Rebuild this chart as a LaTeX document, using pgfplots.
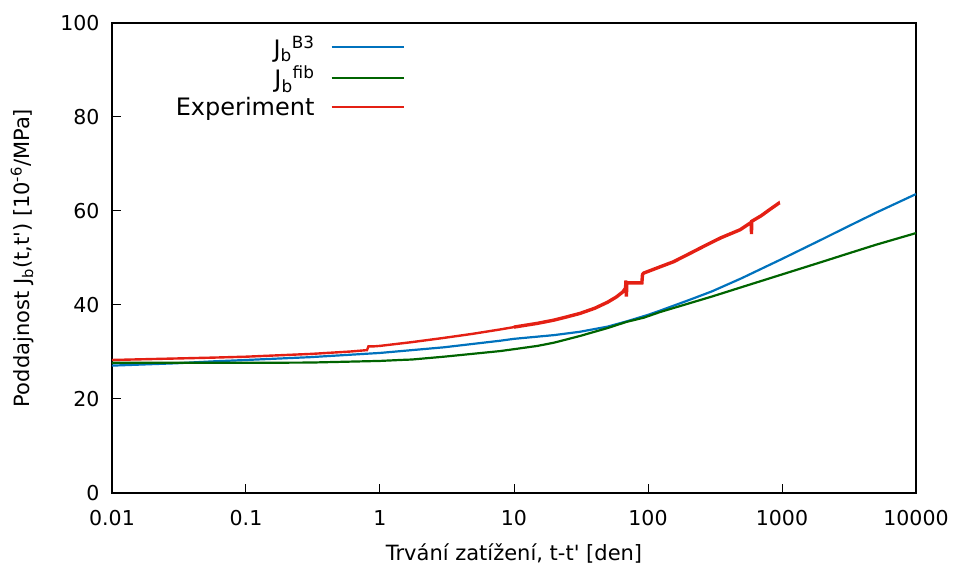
\documentclass[border=0pt]{standalone}
\usepackage{pgfplots}
\pgfplotsset{compat=1.18}
\usepackage{fontspec}
\setmainfont{DejaVu Sans}
\definecolor{cblue}{RGB}{0,114,189}
\definecolor{cgreen}{RGB}{0,100,0}
\definecolor{cred}{RGB}{228,32,20}
\begin{document}
\begin{tikzpicture}
\begin{axis}[
  name=ax,
  scale only axis,
  width=804pt, height=470pt,
  xmode=log, log basis x=10,
  xmin=0.01, xmax=10000, ymin=0, ymax=100,
  xtick={0.01,0.1,1,10,100,1000,10000},
  xticklabels={0.01,0.1,1,10,100,1000,10000},
  ytick={0,20,40,60,80,100},
  minor y tick num=0,
  tick align=inside,
  xtick pos=bottom, ytick pos=left,
  major tick length=9pt, minor tick length=5pt,
  every tick/.style={black, line width=1pt},
  axis line style={line width=1.6pt},
  /pgf/number format/assume math mode=true,
  ticklabel style={font=\fontsize{20.5}{24}\selectfont},
  xticklabel style={yshift=-14pt},
  yticklabel style={xshift=-9pt},
  xlabel={Trvání zatížení, t-t\textquotesingle\ [den]},
  ylabel={Poddajnost J\textsubscript{b}(t,t\textquotesingle) [10\textsuperscript{-6}/MPa]},
  label style={font=\fontsize{21}{25}\selectfont},
  xlabel style={yshift=-11pt},
  ylabel style={yshift=20pt},
  legend cell align=right,
  legend plot pos=right,
  legend style={draw=none, fill=none, at={(0.367,0.982)}, anchor=north east,
    font=\fontsize{24}{27}\selectfont, row sep=3.5pt, inner sep=2pt,
    /tikz/column sep=14pt},
  legend image code/.code={\draw[#1] (0pt,0pt) -- (72pt,0pt);},
]
\addplot[cblue, line width=2.2pt] coordinates {
(0.01,27.1) (0.03,27.6) (0.056,28.0) (0.1,28.3) (0.3,28.9) (1,29.8) (1.73,30.4)
(3,31.0) (7.9,32.4) (10,32.8) (20,33.6) (31,34.3) (50,35.4) (69,36.5) (100,37.9)
(123,38.8) (200,41.0) (300,42.9) (500,45.7) (1000,49.8) (2000,54.0) (3000,56.5)
(5000,59.6) (10000,63.6)
};
\addlegendentry{J\textsubscript{b}\textsuperscript{B3}}
\addplot[cgreen, line width=2.2pt] coordinates {
(0.01,27.7) (0.1,27.7) (0.3,27.75) (1,28.1) (1.41,28.3) (1.73,28.4) (3,29.0)
(7.9,30.2) (10,30.6) (15,31.3) (20,32.0) (31,33.4) (50,35.1) (69,36.4) (93,37.3) (123,38.5)
(200,40.3) (300,41.8) (500,43.8) (1000,46.5) (2000,49.2) (3000,50.8) (5000,52.8)
(10000,55.3)
};
\addlegendentry{J\textsubscript{b}\textsuperscript{fib}}
\addplot[cred, line width=2.4pt] coordinates {
(0.01,28.3) (0.056,28.8) (0.1,29.0) (0.31,29.6) (0.6,30.1) (0.80,30.4) (0.82,31.2)
(0.9,31.2) (1,31.3) (1.73,32.1) (3,33.0) (5,33.9) (7.9,34.8) (10,35.3)
};
\addlegendentry{Experiment}
\addplot[cred, line width=3.4pt, forget plot] coordinates {
(10,35.3) (15,36.1) (20,36.8) (25,37.5) (31,38.2) (40,39.3) (50,40.6) (58,41.7)
(65,42.8) (68,43.6) (68.5,45.2) (69,41.8) (69.5,44.7) (90,44.7)
(91,46.5) (93,46.8) (120,48.0) (155,49.2) (200,50.8) (274,52.8) (350,54.3)
(486,56.0) (590,57.6) (592,55.1) (594,57.8) (700,59.0) (800,60.2) (940,61.6) (945,61.3)
};
\end{axis}
\pgfresetboundingbox
\path ([xshift=-112pt,yshift=-74pt]ax.south west) rectangle ([xshift=42pt,yshift=23pt]ax.north east);
\end{tikzpicture}
\end{document}
